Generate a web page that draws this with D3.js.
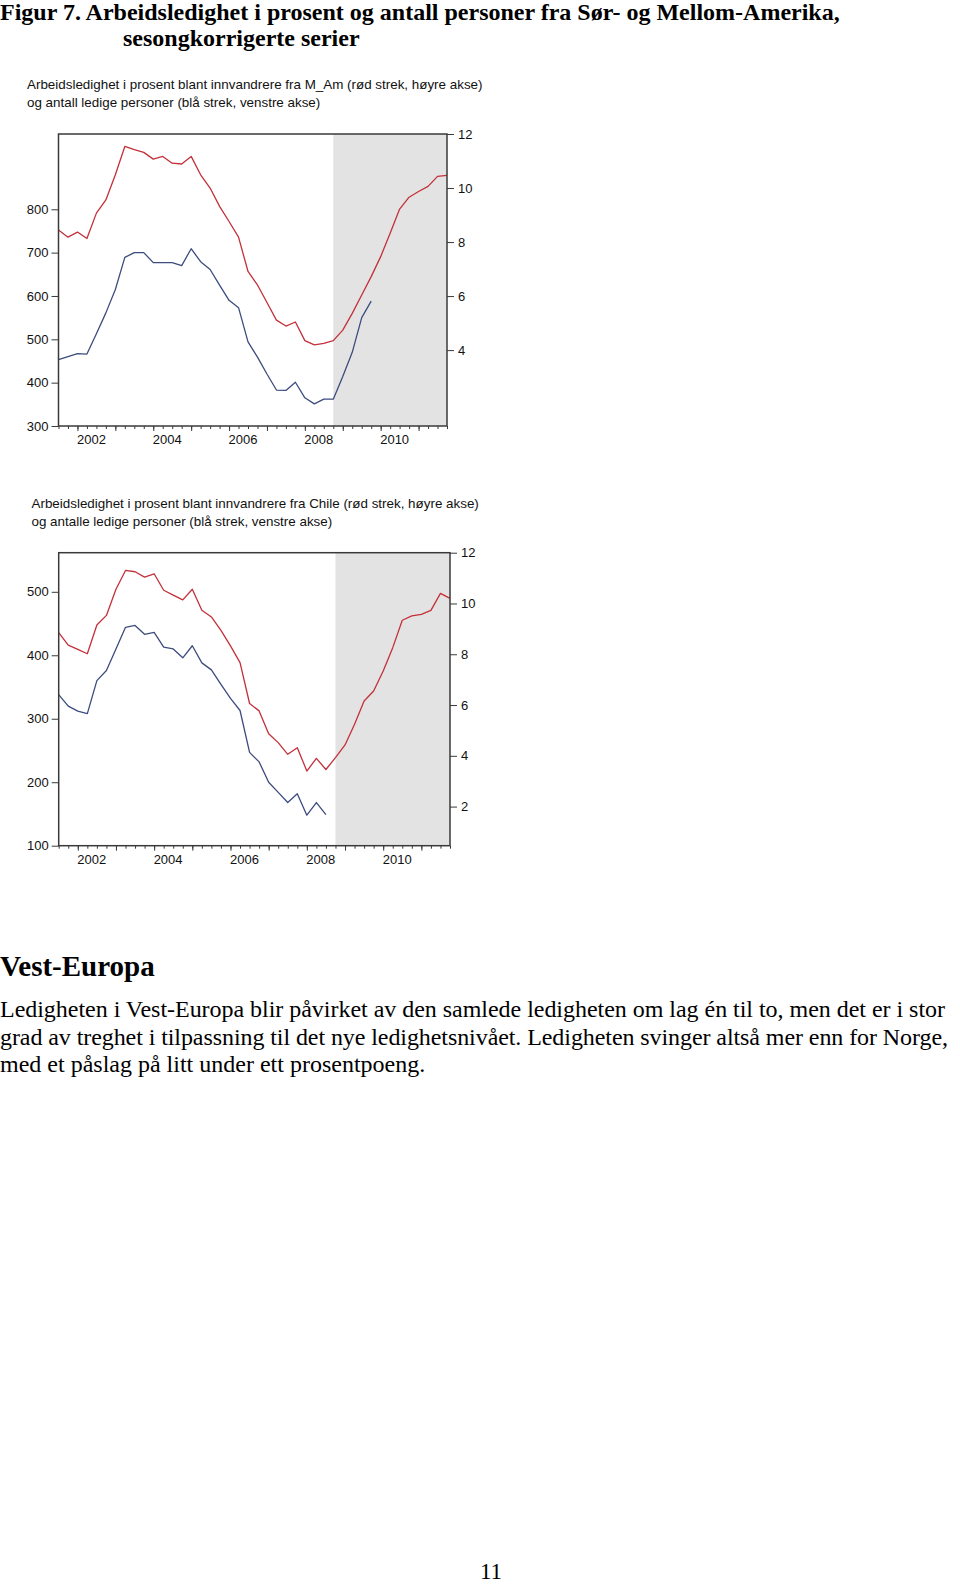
<!DOCTYPE html>
<html>
<head>
<meta charset="utf-8">
<script src="https://cdn.jsdelivr.net/npm/d3@7"></script>
<style>
  body { margin: 0; background: #fff; }
  svg { display: block; }
</style>
</head>
<body>
<div id="root"></div>
<script>
// quarterly observations, 2001Q3 - 2011Q4
const quarters = [
  "2001Q3", "2001Q4",
  "2002Q1", "2002Q2", "2002Q3", "2002Q4",
  "2003Q1", "2003Q2", "2003Q3", "2003Q4",
  "2004Q1", "2004Q2", "2004Q3", "2004Q4",
  "2005Q1", "2005Q2", "2005Q3", "2005Q4",
  "2006Q1", "2006Q2", "2006Q3", "2006Q4",
  "2007Q1", "2007Q2", "2007Q3", "2007Q4",
  "2008Q1", "2008Q2", "2008Q3", "2008Q4",
  "2009Q1", "2009Q2", "2009Q3", "2009Q4",
  "2010Q1", "2010Q2", "2010Q3", "2010Q4",
  "2011Q1", "2011Q2", "2011Q3", "2011Q4",
];
const forecastStart = "2008Q4";

// M_Am: unemployment rate (right axis) and number unemployed (left axis)
const mamRate = [
  8.45, 8.18, 8.37, 8.13, 9.07, 9.56, 10.49, 11.54, 11.42, 11.32,
  11.07, 11.17, 10.92, 10.89, 11.17, 10.49, 10.0, 9.32, 8.76, 8.18,
  6.91, 6.41, 5.76, 5.11, 4.89, 5.04, 4.35, 4.19, 4.25, 4.35,
  4.74, 5.36, 6.04, 6.72, 7.46, 8.33, 9.22, 9.66, 9.87, 10.06,
  10.43, 10.47,
];
const mamPersons = [
  453, 460, 467, 466, 513, 561, 615, 689, 700, 700,
  677, 677, 677, 670, 709, 679, 661, 625, 590, 573,
  494, 459, 420, 383, 382, 401, 365, 351, 362, 362,
  414, 470, 550, 588,
];

// Chile
const chileRate = [
  8.85, 8.36, 8.19, 8.02, 9.15, 9.53, 10.56, 11.3, 11.25, 11.04,
  11.17, 10.52, 10.33, 10.14, 10.56, 9.73, 9.47, 8.94, 8.33, 7.67,
  6.06, 5.77, 4.87, 4.52, 4.06, 4.32, 3.4, 3.9, 3.46, 3.93,
  4.43, 5.24, 6.16, 6.55, 7.34, 8.26, 9.34, 9.51, 9.57, 9.73,
  10.4, 10.2,
];
const chilePersons = [
  338, 320, 312, 308, 360, 376, 410, 444, 447, 433,
  436, 413, 410, 396, 415, 388, 377, 354, 332, 313,
  247, 232, 200, 184, 168, 182, 148, 168, 149,
];

const yearLabels = [2002, 2004, 2006, 2008, 2010];
const yearTicks = [2002, 2003, 2004, 2005, 2006, 2007, 2008, 2009, 2010, 2011];
const leftTicks1 = [300, 400, 500, 600, 700, 800];
const rightTicks1 = [4, 6, 8, 10, 12];
const leftTicks2 = [100, 200, 300, 400, 500];
const rightTicks2 = [2, 4, 6, 8, 10, 12];

const width = 960;
const height = 1587;
const sans = "'Liberation Sans', Arial, sans-serif";
const serif = "'Liberation Serif', 'Times New Roman', serif";
const red = "#c3303a";
const blue = "#3d4c7e";

const toYear = (q) => +q.slice(0, 4) + (+q.slice(5) - 1) / 4;

const svg = d3
  .select("#root")
  .append("svg")
  .attr("width", width)
  .attr("height", height)
  .attr("viewBox", `0 0 ${width} ${height}`);

svg.append("rect").attr("width", width).attr("height", height).attr("fill", "#fff");

// title
const title = svg
  .append("text")
  .attr("font-family", serif)
  .attr("font-weight", "bold")
  .attr("font-size", 24)
  .attr("fill", "#000");
title.append("tspan").attr("x", 0).attr("y", 20)
  .text("Figur 7. Arbeidsledighet i prosent og antall personer fra Sør- og Mellom-Amerika,");
title.append("tspan").attr("x", 123).attr("y", 46)
  .text("sesongkorrigerte serier");

function drawChart(opts) {
  const { top, bottom, left, right, leftDomain, rightDomain } = opts;

  const x = d3
    .scaleLinear()
    .domain([toYear(quarters[0]), toYear(quarters[quarters.length - 1])])
    .range([left, right]);
  const yL = d3.scaleLinear().domain(leftDomain).range([bottom, top]);
  const yR = d3.scaleLinear().domain(rightDomain).range([bottom, top]);

  const g = svg.append("g");

  // subtitle
  const sub = g
    .append("text")
    .attr("font-family", sans)
    .attr("font-size", 13.4)
    .attr("fill", "#111");
  sub.append("tspan").attr("x", opts.subX).attr("y", opts.subY).text(opts.sub1);
  sub.append("tspan").attr("x", opts.subX).attr("y", opts.subY + 17.5).text(opts.sub2);

  // shaded forecast period
  g.append("rect")
    .attr("x", x(toYear(forecastStart)))
    .attr("y", top)
    .attr("width", right - x(toYear(forecastStart)))
    .attr("height", bottom - top)
    .attr("fill", "#e3e3e3");

  const line = (scale) =>
    d3
      .line()
      .x((d, i) => x(toYear(quarters[i])))
      .y((d) => scale(d));

  g.append("path")
    .datum(opts.persons)
    .attr("fill", "none")
    .attr("stroke", blue)
    .attr("stroke-width", 1.3)
    .attr("stroke-linejoin", "round")
    .attr("d", line(yL));

  g.append("path")
    .datum(opts.rate)
    .attr("fill", "none")
    .attr("stroke", red)
    .attr("stroke-width", 1.3)
    .attr("stroke-linejoin", "round")
    .attr("d", line(yR));

  // frame
  g.append("rect")
    .attr("x", left)
    .attr("y", top)
    .attr("width", right - left)
    .attr("height", bottom - top)
    .attr("fill", "none")
    .attr("stroke", "#3a3a3a")
    .attr("stroke-width", 1.5);

  const styleAxis = (sel) => {
    sel.select(".domain").remove();
    sel.selectAll("line").attr("stroke", "#3a3a3a").attr("stroke-width", 1);
    sel.selectAll("text")
      .attr("font-family", sans)
      .attr("font-size", 13)
      .attr("fill", "#111");
  };

  g.append("g")
    .attr("transform", `translate(${left},0)`)
    .call(d3.axisLeft(yL).tickValues(opts.leftTicks).tickSize(7).tickPadding(3))
    .call(styleAxis);

  g.append("g")
    .attr("transform", `translate(${right},0)`)
    .call(d3.axisRight(yR).tickValues(opts.rightTicks).tickSize(7).tickPadding(4))
    .call(styleAxis);

  // quarterly minor ticks
  g.append("g")
    .attr("transform", `translate(0,${bottom})`)
    .call(d3.axisBottom(x).tickValues(quarters.map(toYear)).tickSize(3).tickFormat(""))
    .call(styleAxis);

  // yearly major ticks
  g.append("g")
    .attr("transform", `translate(0,${bottom})`)
    .call(d3.axisBottom(x).tickValues(yearTicks).tickSize(5).tickFormat(""))
    .call(styleAxis);

  // year labels, left aligned at year start
  g.append("g")
    .attr("transform", `translate(0,${bottom})`)
    .call(d3.axisBottom(x).tickValues(yearLabels).tickSize(0).tickPadding(9).tickFormat(d3.format("d")))
    .call(styleAxis)
    .call((s) => s.selectAll("text").attr("text-anchor", "start").attr("dx", -1));
}

drawChart({
  top: 134,
  bottom: 426,
  left: 58.5,
  right: 447,
  leftDomain: [300, 973.7],
  rightDomain: [1.19, 12],
  leftTicks: leftTicks1,
  rightTicks: rightTicks1,
  rate: mamRate,
  persons: mamPersons,
  subX: 27,
  subY: 89,
  sub1: "Arbeidsledighet i prosent blant innvandrere fra M_Am (rød strek, høyre akse)",
  sub2: "og antall ledige personer (blå strek, venstre akse)",
});

drawChart({
  top: 552.7,
  bottom: 845.7,
  left: 58.7,
  right: 450,
  leftDomain: [100, 561.6],
  rightDomain: [0.46, 12],
  leftTicks: leftTicks2,
  rightTicks: rightTicks2,
  rate: chileRate,
  persons: chilePersons,
  subX: 31.5,
  subY: 508,
  sub1: "Arbeidsledighet i prosent blant innvandrere fra Chile (rød strek, høyre akse)",
  sub2: "og antalle ledige personer (blå strek, venstre akse)",
});

// body text below the figure
svg.append("text")
  .attr("x", 0)
  .attr("y", 976)
  .attr("font-family", serif)
  .attr("font-weight", "bold")
  .attr("font-size", 29)
  .attr("fill", "#000")
  .text("Vest-Europa");

const para = [
  "Ledigheten i Vest-Europa blir påvirket av den samlede ledigheten om lag én til to, men det er i stor",
  "grad av treghet i tilpassning til det nye ledighetsnivået. Ledigheten svinger altså mer enn for Norge,",
  "med et påslag på litt under ett prosentpoeng.",
];
const paraWidths = [945, 948, null];

svg.append("g")
  .selectAll("text")
  .data(para)
  .join("text")
  .attr("x", 0)
  .attr("y", (d, i) => 1017 + i * 27.5)
  .attr("font-family", serif)
  .attr("font-size", 24)
  .attr("fill", "#000")
  .each(function (d, i) {
    if (paraWidths[i]) {
      d3.select(this).attr("textLength", paraWidths[i]).attr("lengthAdjust", "spacing");
    }
  })
  .text((d) => d);

// page number
svg.append("text")
  .attr("x", 491)
  .attr("y", 1579)
  .attr("text-anchor", "middle")
  .attr("font-family", serif)
  .attr("font-size", 23)
  .attr("fill", "#000")
  .text("11");
</script>
</body>
</html>
